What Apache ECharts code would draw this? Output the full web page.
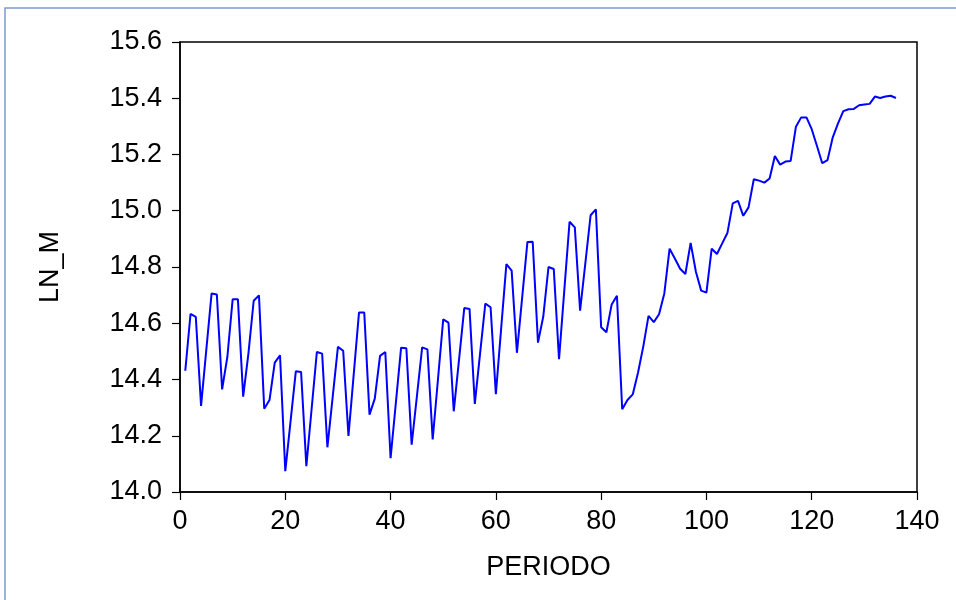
<!DOCTYPE html>
<html>
<head>
<meta charset="utf-8">
<script src="https://cdn.jsdelivr.net/npm/echarts@6/dist/echarts.min.js"></script>
<style>
html,body{margin:0;padding:0;background:#fff;}
#chart{width:956px;height:600px;}
</style>
</head>
<body>
<div id="chart"></div>
<script>
const xName = 'PERIODO';
const yName = 'LN_M';
const xTicks = [0, 20, 40, 60, 80, 100, 120, 140];
const yTicks = [14.0, 14.2, 14.4, 14.6, 14.8, 15.0, 15.2, 15.4, 15.6];
const lnM = [
  14.431, 14.633, 14.623, 14.306, 14.506, 14.706, 14.702, 14.365, 14.481, 14.685,
  14.685, 14.339, 14.493, 14.680, 14.699, 14.296, 14.327, 14.460, 14.486, 14.074,
  14.251, 14.429, 14.427, 14.092, 14.295, 14.498, 14.492, 14.159, 14.337, 14.516,
  14.502, 14.199, 14.418, 14.638, 14.638, 14.275, 14.332, 14.484, 14.498, 14.120,
  14.316, 14.513, 14.511, 14.168, 14.340, 14.514, 14.507, 14.187, 14.400, 14.614,
  14.602, 14.287, 14.470, 14.654, 14.651, 14.313, 14.492, 14.670, 14.657, 14.348,
  14.580, 14.810, 14.787, 14.495, 14.692, 14.889, 14.890, 14.531, 14.623, 14.800,
  14.793, 14.472, 14.717, 14.961, 14.941, 14.645, 14.814, 14.984, 15.005, 14.586,
  14.568, 14.667, 14.698, 14.294, 14.327, 14.347, 14.424, 14.517, 14.626, 14.604,
  14.632, 14.706, 14.865, 14.830, 14.794, 14.775, 14.886, 14.783, 14.716, 14.709,
  14.865, 14.846, 14.884, 14.922, 15.026, 15.035, 14.982, 15.012, 15.112, 15.107,
  15.100, 15.115, 15.195, 15.164, 15.175, 15.177, 15.299, 15.332, 15.332, 15.290,
  15.230, 15.169, 15.180, 15.261, 15.311, 15.354, 15.361, 15.362, 15.375, 15.378,
  15.380, 15.406, 15.401, 15.406, 15.409, 15.401
];
const periods = lnM.map((v, i) => i + 1);

const font = 'Liberation Sans, Arial, sans-serif';
const chart = echarts.init(document.getElementById('chart'), null, {renderer: 'canvas'});
chart.setOption({
  animation: false,
  backgroundColor: '#fff',
  graphic: [{
    type: 'rect',
    shape: {x: 5, y: 8, width: 970, height: 620},
    style: {fill: 'none', stroke: '#7a9bd0', lineWidth: 1.5},
    silent: true
  }],
  grid: {
    left: 180, right: 39, top: 42, bottom: 108,
    show: true, borderColor: '#000', borderWidth: 1.5, backgroundColor: 'transparent'
  },
  xAxis: {
    type: 'value',
    min: xTicks[0], max: xTicks[xTicks.length - 1], interval: 20,
    name: xName, nameLocation: 'middle', nameGap: 62,
    nameTextStyle: {fontFamily: font, fontSize: 27, color: '#000'},
    axisLine: {show: true, onZero: false, lineStyle: {color: '#000', width: 1.5}},
    axisTick: {show: true, inside: false, length: 8, lineStyle: {color: '#000', width: 1.2}},
    axisLabel: {fontFamily: font, fontSize: 27, color: '#000', margin: 16},
    splitLine: {show: false}
  },
  yAxis: {
    type: 'value',
    min: yTicks[0], max: yTicks[yTicks.length - 1], interval: 0.2,
    name: yName, nameLocation: 'middle', nameGap: 116, nameRotate: 90,
    nameTextStyle: {fontFamily: font, fontSize: 27, color: '#000'},
    axisLine: {show: true, lineStyle: {color: '#000', width: 1.5}},
    axisTick: {show: true, inside: false, length: 8, lineStyle: {color: '#000', width: 1.2}},
    axisLabel: {fontFamily: font, fontSize: 27, color: '#000', margin: 18,
      formatter: v => v.toFixed(1)},
    splitLine: {show: false}
  },
  series: [{
    type: 'line',
    data: periods.map((p, i) => [p, lnM[i]]),
    showSymbol: false,
    lineStyle: {color: '#0000ff', width: 2},
    itemStyle: {color: '#0000ff'}
  }]
});
</script>
</body>
</html>
